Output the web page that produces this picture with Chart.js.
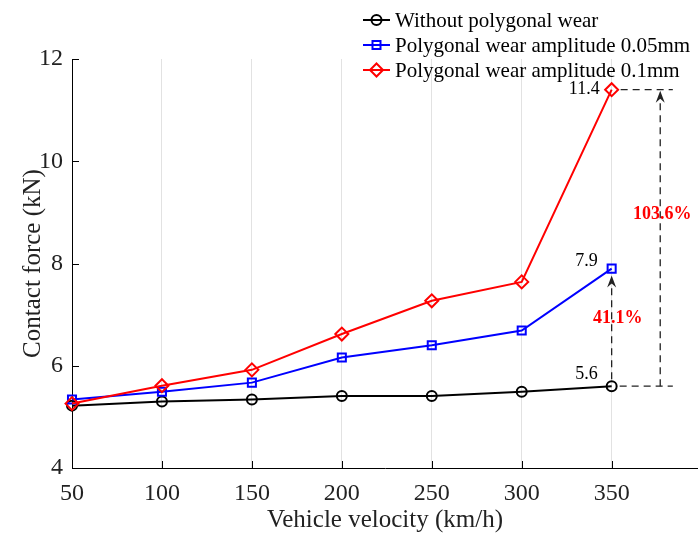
<!DOCTYPE html>
<html>
<head>
<meta charset="utf-8">
<script src="https://cdn.jsdelivr.net/npm/chart.js@4"></script>
<style>
  body { margin: 0; background: #fff; }
  canvas { display: block; }
</style>
</head>
<body>
<canvas id="chart" width="698" height="533"></canvas>
<script>
const velocities = [50, 100, 150, 200, 250, 300, 350]
const noWear = [5.22, 5.30, 5.34, 5.41, 5.41, 5.49, 5.6]
const wear005 = [5.34, 5.49, 5.67, 6.16, 6.40, 6.69, 7.9]
const wear01 = [5.26, 5.61, 5.92, 6.62, 7.27, 7.64, 11.4]
const xTicks = [50, 100, 150, 200, 250, 300, 350]
const yTicks = [4, 6, 8, 10, 12]

const seriesNames = [
    "Without polygonal wear",
    "Polygonal wear amplitude 0.05mm",
    "Polygonal wear amplitude 0.1mm",
]

const serif = "'Liberation Serif', 'Times New Roman', serif"
const ink = "#222"

const points = (vals) => velocities.map((v, i) => ({ x: v, y: vals[i] }))

// marker shapes shared by the legend
function marker(ctx, style, x, y) {
    ctx.beginPath()
    if (style === "circle") {
        ctx.arc(x, y, 5, 0, Math.PI * 2)
    } else if (style === "rect") {
        ctx.rect(x - 4, y - 4, 8, 8)
    } else {
        ctx.moveTo(x, y - 6.5)
        ctx.lineTo(x + 6.5, y)
        ctx.lineTo(x, y + 6.5)
        ctx.lineTo(x - 6.5, y)
        ctx.closePath()
    }
    ctx.stroke()
}

// legend in the top right corner: short line + marker + label
const cornerLegend = {
    id: "cornerLegend",
    afterDraw(chart) {
        const ctx = chart.ctx
        ctx.save()
        ctx.font = "21px " + serif
        ctx.textBaseline = "middle"
        ctx.lineWidth = 2
        chart.data.datasets.forEach((ds, i) => {
            const y = 20 + i * 25
            ctx.strokeStyle = ds.borderColor
            ctx.beginPath()
            ctx.moveTo(363, y)
            ctx.lineTo(390, y)
            ctx.stroke()
            marker(ctx, ds.pointStyle, 376.5, y)
            ctx.fillStyle = "#000"
            ctx.fillText(ds.label, 395, y + 1)
        })
        ctx.restore()
    }
}

// inward tick marks on both axes
const innerTicks = {
    id: "innerTicks",
    beforeDatasetsDraw(chart) {
        const { ctx, chartArea, scales: { x, y } } = chart
        ctx.save()
        ctx.strokeStyle = "#000"
        ctx.lineWidth = 1
        xTicks.forEach(v => {
            const px = Math.round(x.getPixelForValue(v)) + 0.5
            ctx.beginPath()
            ctx.moveTo(px, chartArea.bottom)
            ctx.lineTo(px, chartArea.bottom - 7)
            ctx.stroke()
        })
        yTicks.forEach(v => {
            const py = Math.round(y.getPixelForValue(v)) + 0.5
            ctx.beginPath()
            ctx.moveTo(chartArea.left, py)
            ctx.lineTo(chartArea.left + 7, py)
            ctx.stroke()
        })
        ctx.restore()
    }
}

function arrowHead(ctx, x, y) {
    ctx.beginPath()
    ctx.moveTo(x, y)
    ctx.lineTo(x + 4.5, y + 12)
    ctx.lineTo(x, y + 8)
    ctx.lineTo(x - 4.5, y + 12)
    ctx.closePath()
    ctx.fill()
}

// value labels, dashed guides and increase arrows at 350 km/h
const increaseNotes = {
    id: "increaseNotes",
    afterDatasetsDraw(chart) {
        const { ctx, scales: { x, y } } = chart
        const last = velocities.length - 1
        const base = noWear[last]
        const mid = wear005[last]
        const top = wear01[last]

        const px = x.getPixelForValue(velocities[last])
        const pxGuide = x.getPixelForValue(384)
        const pxArrow = x.getPixelForValue(377)
        const yBase = y.getPixelForValue(base)
        const yMid = y.getPixelForValue(mid)
        const yTop = y.getPixelForValue(top)

        ctx.save()
        ctx.strokeStyle = ink
        ctx.fillStyle = ink
        ctx.lineWidth = 1.3
        ctx.setLineDash([7, 5])
        const seg = (x1, y1, x2, y2) => {
            ctx.beginPath()
            ctx.moveTo(x1, y1)
            ctx.lineTo(x2, y2)
            ctx.stroke()
        }
        seg(px + 8, yBase, pxGuide, yBase)
        seg(px + 9, yTop, pxGuide, yTop)
        seg(pxArrow, yBase, pxArrow, yTop + 8)
        seg(px, yBase - 7, px, yMid + 14)
        ctx.setLineDash([])
        arrowHead(ctx, pxArrow, yTop + 1)
        arrowHead(ctx, px, yMid + 7)

        // end values
        ctx.fillStyle = "#000"
        ctx.font = "18px " + serif
        ctx.textAlign = "right"
        ctx.textBaseline = "middle"
        ctx.fillText(top.toFixed(1), px - 12, yTop)
        ctx.fillText(mid.toFixed(1), px - 14, yMid - 7)
        ctx.fillText(base.toFixed(1), px - 14, yBase - 12)

        // relative increase over the unworn wheel
        ctx.fillStyle = "#ff0000"
        ctx.font = "bold 18px " + serif
        ctx.textAlign = "center"
        const pctMid = ((mid - base) / base * 100).toFixed(1) + "%"
        const pctTop = ((top - base) / base * 100).toFixed(1) + "%"
        ctx.fillText(pctMid, px + 6, yBase - 0.58 * (yBase - yMid))
        ctx.fillText(pctTop, pxArrow + 2, yTop + 0.42 * (yBase - yTop))
        ctx.restore()
    }
}

const data = {
    datasets: [
        {
            label: seriesNames[0],
            data: points(noWear),
            borderColor: "#000000",
            pointStyle: "circle",
            pointRadius: 5,
            order: 3,
        },
        {
            label: seriesNames[1],
            data: points(wear005),
            borderColor: "#0000ff",
            pointStyle: "rect",
            pointRadius: 5.7,
            order: 2,
        },
        {
            label: seriesNames[2],
            data: points(wear01),
            borderColor: "#ff0000",
            pointStyle: "rectRot",
            pointRadius: 6.5,
            order: 1,
        },
    ].map(ds => ({
        ...ds,
        borderWidth: 2,
        pointBorderWidth: 2,
        pointBorderColor: ds.borderColor,
        pointBackgroundColor: "rgba(0,0,0,0)",
        pointHoverRadius: ds.pointRadius,
        tension: 0,
        clip: false,
    })),
}

const config = {
    type: "line",
    data: data,
    options: {
        responsive: false,
        animation: false,
        layout: {
            autoPadding: false,
            padding: { top: 59, right: 0, left: 0, bottom: 0 },
        },
        plugins: {
            legend: { display: false },
            tooltip: { enabled: false },
        },
        scales: {
            x: {
                type: "linear",
                min: 50,
                max: 398,
                afterBuildTicks: (scale) => { scale.ticks = xTicks.map(v => ({ value: v })) },
                afterFit: (scale) => {
                    scale.height = 65
                    scale.paddingLeft = 0
                    scale.paddingRight = 0
                },
                grid: {
                    color: "#e2e2e2",
                    lineWidth: 1,
                    drawTicks: false,
                },
                border: { color: "#000", width: 1 },
                ticks: {
                    padding: 11,
                    color: ink,
                    font: { family: serif, size: 24 },
                    maxRotation: 0,
                },
                title: {
                    display: true,
                    text: "Vehicle velocity (km/h)",
                    color: ink,
                    font: { family: serif, size: 25, lineHeight: 1 },
                    padding: { top: 0, bottom: 0 },
                },
            },
            y: {
                min: 4,
                max: 12,
                afterBuildTicks: (scale) => { scale.ticks = yTicks.map(v => ({ value: v })) },
                afterFit: (scale) => {
                    scale.width = 72
                    scale.paddingTop = 0
                    scale.paddingBottom = 0
                },
                grid: { display: false, drawTicks: false },
                border: { display: true, color: "#000", width: 1 },
                ticks: {
                    padding: 9,
                    color: ink,
                    font: { family: serif, size: 24 },
                },
                title: {
                    display: true,
                    text: "Contact force (kN)",
                    color: ink,
                    font: { family: serif, size: 25, lineHeight: 1 },
                    padding: { top: 21, bottom: 0 },
                },
            },
        },
    },
    plugins: [innerTicks, increaseNotes, cornerLegend],
}

new Chart(document.getElementById("chart"), config)
</script>
</body>
</html>
